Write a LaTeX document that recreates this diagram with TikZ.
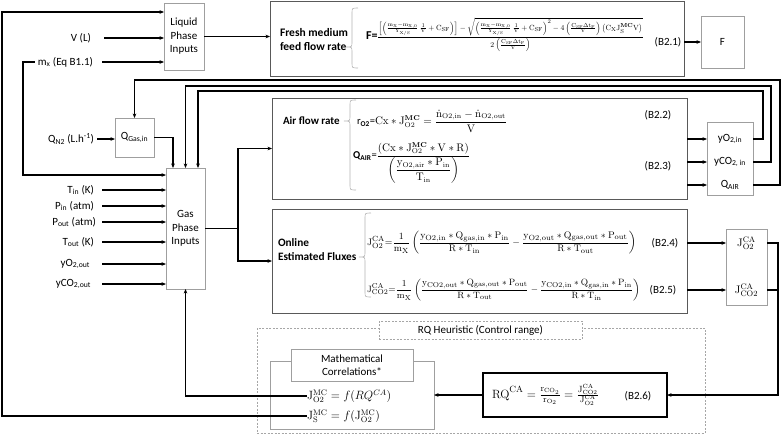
\documentclass[tikz,border=0pt]{standalone}
\usepackage{amsmath}
\usepackage[no-math]{fontspec}
\setmainfont{Carlito}
\usetikzlibrary{arrows.meta,calc}
\newcommand{\mysub}[1]{\textsubscript{#1}}
\newcommand{\mysup}[1]{\textsuperscript{#1}}
\newcommand{\rmm}[1]{\mathrm{#1}}
\newcommand{\Fa}{\frac{\rmm{m_X}-\rmm{m_{X,0}}}{\rmm{Y_{X/S}}}\,\frac{1}{\rmm{V}}+\rmm{C_{SF}}}
\newcommand{\mybrace}[4]{\draw[brc] (#1+6,#2) .. controls (#1,#2) .. (#1,#2+5) -- (#1,#3-5) .. controls (#1,#3) .. (#1-6,#3) .. controls (#1,#3) .. (#1,#3+5) -- (#1,#4-5) .. controls (#1,#4) .. (#1+6,#4);}
\begin{document}
\begin{tikzpicture}[x=1pt,y=-1pt,font=\fontsize{11}{13.5}\selectfont,
  box/.style={draw=gray!75,line width=0.8pt,inner sep=0pt,outer sep=0pt,align=center,fill=white},
  bigbox/.style={draw=black!65,line width=0.9pt,inner sep=0pt,outer sep=0pt},
  arr/.style={-{Stealth[length=4.5pt,width=3.6pt]},line width=1.2pt},
  wire/.style={line width=1.2pt},
  brc/.style={draw=gray!60,line width=0.6pt},
  dsh/.style={draw=gray!70,dash pattern=on 2pt off 1.5pt,line width=0.7pt,inner sep=0pt,outer sep=0pt},
  lbl/.style={inner sep=0pt,outer sep=0pt},
  eq/.style={inner sep=0pt,outer sep=0pt,font=\fontsize{9.5}{11}\selectfont}]
\useasboundingbox (0,0) rectangle (784,434);

% ---- boxes
\node[box,minimum width=40pt,minimum height=67pt] (liq) at (184,36.5) {Liquid\\Phase\\Inputs};
\node[bigbox,minimum width=414pt,minimum height=74.5pt] (fresh) at (477,38.75) {};
\node[box,minimum width=43pt,minimum height=52pt] (F) at (722.5,42) {F};
\node[box,minimum width=39pt,minimum height=39pt] (qgas) at (134.5,137.5) {Q\mysub{Gas,in}};
\node[box,minimum width=39pt,minimum height=121pt] (gas) at (185.5,228.5) {Gas\\Phase\\Inputs};
\node[bigbox,minimum width=415pt,minimum height=101pt] (air) at (479.5,148.5) {};
\node[box,minimum width=46pt,minimum height=73pt] (yo) at (730,158.5) {};
\node[bigbox,minimum width=415pt,minimum height=104pt] (flux) at (479.5,261) {};
\node[box,minimum width=41pt,minimum height=76pt] (jca) at (746.5,267) {};
\node[dsh,draw,minimum width=448pt,minimum height=105pt] (rqout) at (481,380.5) {};
\node[dsh,draw,fill=white,minimum width=203pt,minimum height=18pt] (rqlab) at (480.5,330) {RQ Heuristic (Control range)};
\node[box,minimum width=164pt,minimum height=68pt] (corr) at (352,395) {};
\node[box,minimum width=122pt,minimum height=32pt] (mathc) at (352,365) {Mathematical\\Correlations*};
\node[draw=black,line width=2pt,inner sep=0pt,outer sep=0pt,minimum width=184pt,minimum height=44pt] (rq) at (575,395) {};

% ---- texts inside small boxes
\node[lbl] (yo2in) at (730,139) {yO\mysub{2,in}};
\node[lbl] (yco2in) at (730,162) {yCO\mysub{2, in}};
\node[lbl] (qair) at (730,185) {Q\mysub{AIR}};
\node[lbl] (jo2) at (746.5,243) {$\rmm{J}^{\rmm{CA}}_{\rmm{O2}}$};
\node[lbl] (jco2) at (746.5,290) {$\rmm{J}^{\rmm{CA}}_{\rmm{CO2}}$};

% ---- left labels
\node[lbl,anchor=east] (vl) at (91,38) {V (L)};
\node[lbl,anchor=east] (mx) at (93,62) {m\mysub{x} (Eq B1.1)};
\node[lbl,anchor=east] (qn2) at (94,139) {Q\mysub{N2} (L.h\mysup{-1})};
\node[lbl,anchor=east] (tin) at (94,190) {T\mysub{in} (K)};
\node[lbl,anchor=east] (pin) at (94,206) {P\mysub{in} (atm)};
\node[lbl,anchor=east] (pout) at (96,222) {P\mysub{out} (atm)};
\node[lbl,anchor=east] (tout) at (94,242) {T\mysub{out} (K)};
\node[lbl,anchor=east] (yo2o) at (90,264) {yO\mysub{2,out}};
\node[lbl,anchor=east] (yco2o) at (91,284) {yCO\mysub{2,out}};
\coordinate (gasin) at (102,0);

% ---- fresh medium
\node[lbl,anchor=west,align=left,font=\fontsize{11.5}{14}\selectfont\bfseries] (freshl) at (280,40) {Fresh medium\\feed flow rate};
\mybrace{352}{8}{47}{68}
\node[eq,anchor=west] (feq) at (366,35) {{\fontsize{12}{14}\selectfont\textbf{F=}}\resizebox{266pt}{!}{$\displaystyle\frac{\left[\left(\Fa\right)\right]-\sqrt{\left(\Fa\right)^{2}-4\left(\frac{\rmm{C_{SF}}\Delta\rmm{t_F}}{\rmm{V}}\right)\left(\rmm{C_X}\rmm{J}_{\rmm{S}}^{\mathbf{MC}}\rmm{V}\right)}}{2\left(\frac{\rmm{C_{SF}}\Delta\rmm{t_F}}{\rmm{V}}\right)}$}};
\node[lbl] (b21) at (668,42) {(B2.1)};

% ---- air flow
\node[lbl,anchor=west,font=\fontsize{11}{13}\selectfont\bfseries] (airl) at (283,121) {Air flow rate};
\mybrace{350}{100}{121}{190}
\node[eq,anchor=west,font=\fontsize{10.5}{12}\selectfont] (aeq1) at (357,121) {r$_{\textbf{O2}}$=$\rmm{Cx}\ast\rmm{J}^{\mathbf{MC}}_{\rmm{O2}}=\dfrac{\dot{\rmm{n}}_{\rmm{O2,in}}-\dot{\rmm{n}}_{\rmm{O2,out}}}{\rmm{V}}$};
\node[eq,anchor=west,font=\fontsize{10.5}{12}\selectfont] (aeq2) at (353,163) {\textbf{Q}\mysub{\textbf{AIR}}=$\dfrac{(\rmm{Cx}\ast\rmm{J}^{\mathbf{MC}}_{\rmm{O2}}\ast\rmm{V}\ast\rmm{R})}{\left(\dfrac{\rmm{y}_{\rmm{O2,air}}\ast\rmm{P_{in}}}{\rmm{T_{in}}}\right)}$};
\node[lbl] (b22) at (658,115) {(B2.2)};
\node[lbl] (b23) at (658,166) {(B2.3)};

% ---- fluxes
\node[lbl,anchor=west,align=left,font=\fontsize{11.3}{14}\selectfont\bfseries] (fluxl) at (278,250) {Online\\Estimated Fluxes};
\mybrace{365}{213}{257}{297}
\node[eq,anchor=west] (feq1) at (367,243) {\resizebox{269pt}{!}{$\rmm{J}^{\rmm{CA}}_{\rmm{O2}}{=}\dfrac{1}{\rmm{m_X}}\left(\dfrac{\rmm{y_{O2,in}}\ast\rmm{Q_{gas,in}}\ast\rmm{P_{in}}}{\rmm{R}\ast\rmm{T_{in}}}-\dfrac{\rmm{y_{O2,out}}\ast\rmm{Q_{gas,out}}\ast\rmm{P_{out}}}{\rmm{R}\ast\rmm{T_{out}}}\right)$}};
\node[eq,anchor=west] (feq2) at (367,290) {\resizebox{273pt}{!}{$\rmm{J}^{\rmm{CA}}_{\rmm{CO2}}{=}\dfrac{1}{\rmm{m_X}}\left(\dfrac{\rmm{y_{CO2,out}}\ast\rmm{Q_{gas,out}}\ast\rmm{P_{out}}}{\rmm{R}\ast\rmm{T_{out}}}-\dfrac{\rmm{y_{CO2,in}}\ast\rmm{Q_{gas,in}}\ast\rmm{P_{in}}}{\rmm{R}\ast\rmm{T_{in}}}\right)$}};
\node[lbl] (b24) at (665,243) {(B2.4)};
\node[lbl] (b25) at (663,290) {(B2.5)};

% ---- correlations and RQ
\node[lbl,anchor=west,font=\fontsize{11.5}{13}\selectfont] (jomc) at (307,396) {$\rmm{J}^{\rmm{MC}}_{\rmm{O2}}=f(RQ^{CA})$};
\node[lbl,anchor=west,font=\fontsize{11.5}{13}\selectfont] (jsmc) at (307,416) {$\rmm{J}^{\rmm{MC}}_{\rmm{S}}=f(\rmm{J}^{\rmm{MC}}_{\rmm{O2}})$};
\node[lbl,anchor=west,font=\fontsize{12.5}{14}\selectfont] (rqeq) at (492,395) {$\rmm{RQ}^{\rmm{CA}}=\frac{\rmm{r}_{\rmm{CO_2}}}{\rmm{r}_{\rmm{O_2}}}=\frac{\rmm{J}^{\rmm{CA}}_{\rmm{CO2}}}{\rmm{J}^{\rmm{CA}}_{\rmm{O2}}}$};
\node[lbl] (b26) at (638,396) {(B2.6)};

% ---- connectors
\draw[arr] (liq.east) -- (liq.east -| fresh.west);
\draw[arr] (fresh.east |- F.west) -- (F.west);
\draw[arr] ([xshift=13pt]vl.east) -- (vl.east -| liq.west);
\draw[arr] ([xshift=9pt]mx.east) -- (mx.east -| liq.west);
\draw[arr] ([xshift=-3pt]mx.west) -| (23,175) -- (gas.west |- 0,175);
\draw[arr] (jsmc.west) -| (2,12) -- (liq.west |- 0,12);
\draw[arr] (jomc.west) -| (gas.south);
\draw[arr] ([xshift=3pt]qn2.east) -- (qn2.east -| qgas.west);
\draw[arr] (qgas.east) -| ([xshift=-12.5pt]gas.north);
\foreach \n in {tin,pin,pout,tout,yo2o,yco2o}
  \draw[arr] (\n.east -| gasin) -- (\n.east -| gas.west);
\draw[arr] (gas.east) -- ++(33,0) |- (air.west);
\draw[arr] (gas.east) -- ++(33,0) |- (flux.west);
\foreach \n in {yo2in,yco2in,qair}
  \draw[arr] (air.east |- \n) -- (yo.west |- \n);
\draw[arr] (yo.east |- yo2in) -| (763,91) -| ([xshift=12.5pt]gas.north);
\draw[arr] (yo.east |- yco2in) -| (771,86) -| (gas.north);
\draw[arr] (yo.east |- qair) -| (780,80) -| (qgas.north);
\draw[arr] (flux.east |- jo2) -- (jca.west |- jo2);
\draw[arr] (flux.east |- jco2) -- (jca.west |- jco2);
\draw[wire] (jca.east |- jo2) -| (778,290);
\draw[arr] (jca.east |- jco2) -- (778,290) |- (rq.east);
\draw[arr] (rq.west) -- (rq.west -| corr.east);
\end{tikzpicture}
\end{document}
